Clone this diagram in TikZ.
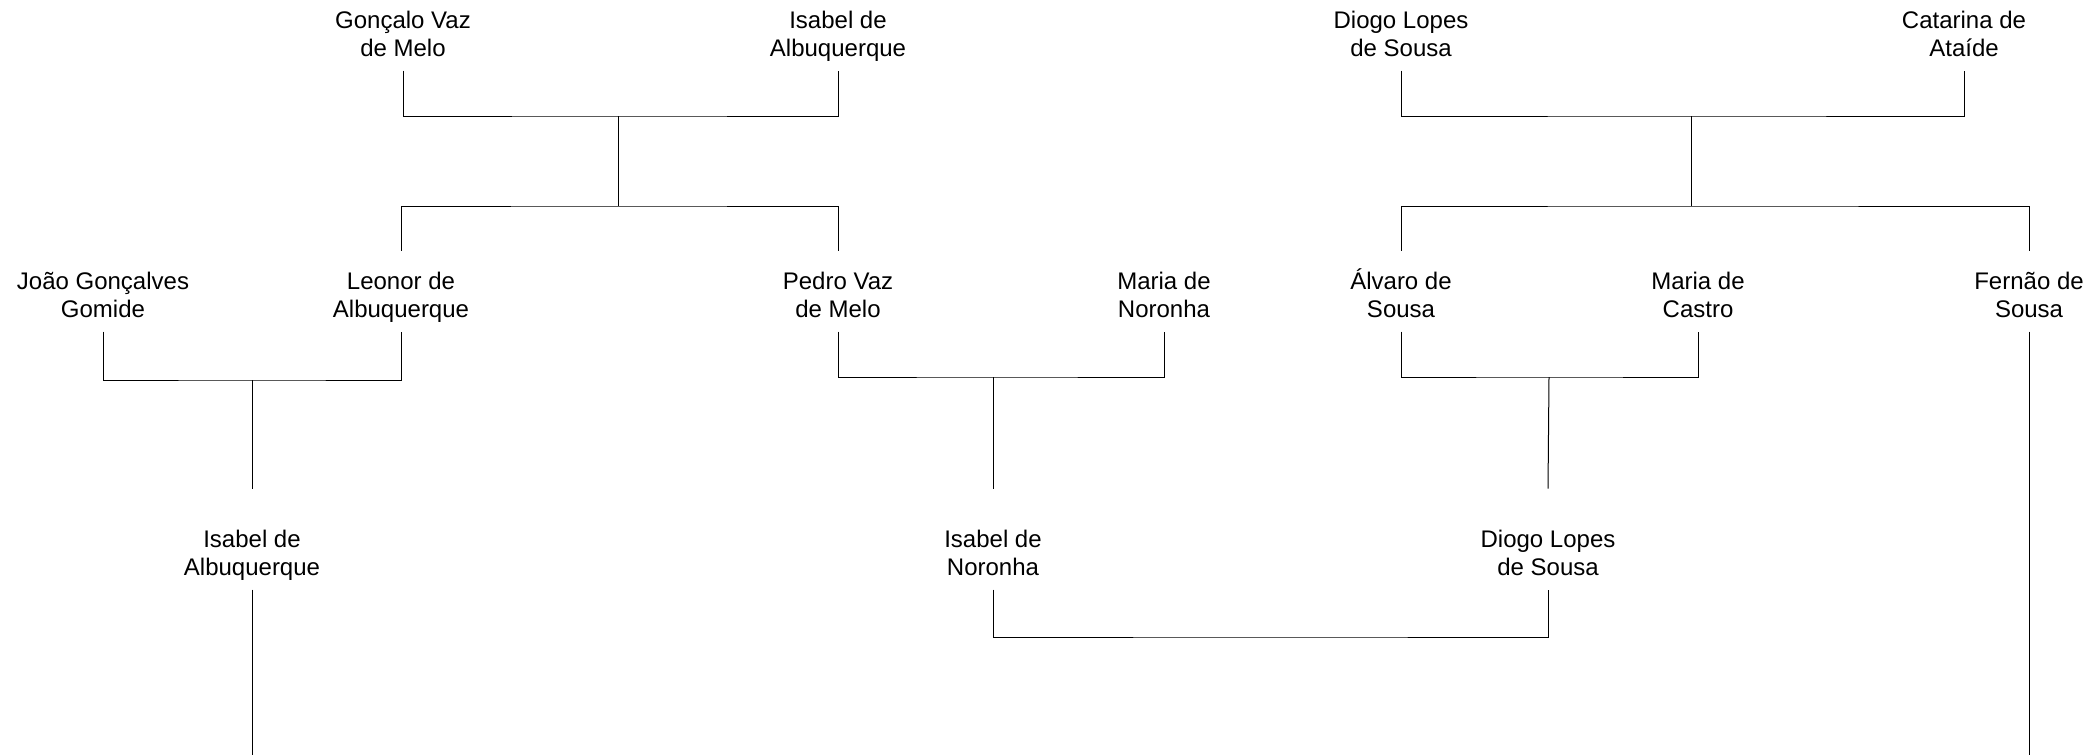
\documentclass[tikz,border=0pt]{standalone}
\usepackage{fontspec}
\setmainfont{Liberation Sans}

\begin{document}
\begin{tikzpicture}[x=0.5pt, y=-0.5pt, line width=0.5pt,
    person/.style={align=center, inner sep=0pt, anchor=base,
      font=\fontsize{12}{14}\selectfont, text height=33pt, text depth=7pt},
    low/.style={person, text height=43pt}]
  \useasboundingbox (0,0) rectangle (2098,755);
  \node[person] (gon) at (403,56) {Gonçalo Vaz\\de Melo};
  \node[person] (isa) at (838,56) {Isabel de\\Albuquerque};
  \node[person] (dio) at (1401,56) {Diogo Lopes\\de Sousa};
  \node[person] (cat) at (1964,56) {Catarina de\\Ataíde};
  \node[person] (joa) at (103,317) {João Gonçalves\\Gomide};
  \node[person] (leo) at (401,317) {Leonor de\\Albuquerque};
  \node[person] (ped) at (838,317) {Pedro Vaz\\de Melo};
  \node[person] (mno) at (1164,317) {Maria de\\Noronha};
  \node[person] (alv) at (1401,317) {Álvaro de\\Sousa};
  \node[person] (mca) at (1698,317) {Maria de\\Castro};
  \node[person] (fer) at (2029,317) {Fernão de\\Sousa};
  \node[low] (isa2) at (252,575) {Isabel de\\Albuquerque};
  \node[low] (ino) at (993,575) {Isabel de\\Noronha};
  \node[low] (dio2) at (1548,575) {Diogo Lopes\\de Sousa};
  \coordinate (u1) at (618,116);
  \coordinate (s1) at (618,206);
  \coordinate (u2) at (1691,116);
  \coordinate (s2) at (1691,206);
  \coordinate (u3) at (252,380);
  \coordinate (u4) at (993,377);
  \coordinate (u5) at (1549,377);
  \coordinate (u6) at (1270,637);
  \coordinate (e1) at (252,755);
  \coordinate (e2) at (2029,755);
  \draw (gon.south) |- (u1) -| (isa.south);
  \draw (u1) -- (s1);
  \draw (leo.north) |- (s1) -| (ped.north);
  \draw (dio.south) |- (u2) -| (cat.south);
  \draw (u2) -- (s2);
  \draw (alv.north) |- (s2) -| (fer.north);
  \draw (joa.south) |- (u3) -| (leo.south);
  \draw (u3) -- (isa2.north);
  \draw (ped.south) |- (u4) -| (mno.south);
  \draw (u4) -- (ino.north);
  \draw (alv.south) |- (u5) -| (mca.south);
  \draw (u5) -- (dio2.north);
  \draw (ino.south) |- (u6) -| (dio2.south);
  \draw (isa2.south) -- (e1);
  \draw (fer.south) -- (e2);
\end{tikzpicture}
\end{document}
